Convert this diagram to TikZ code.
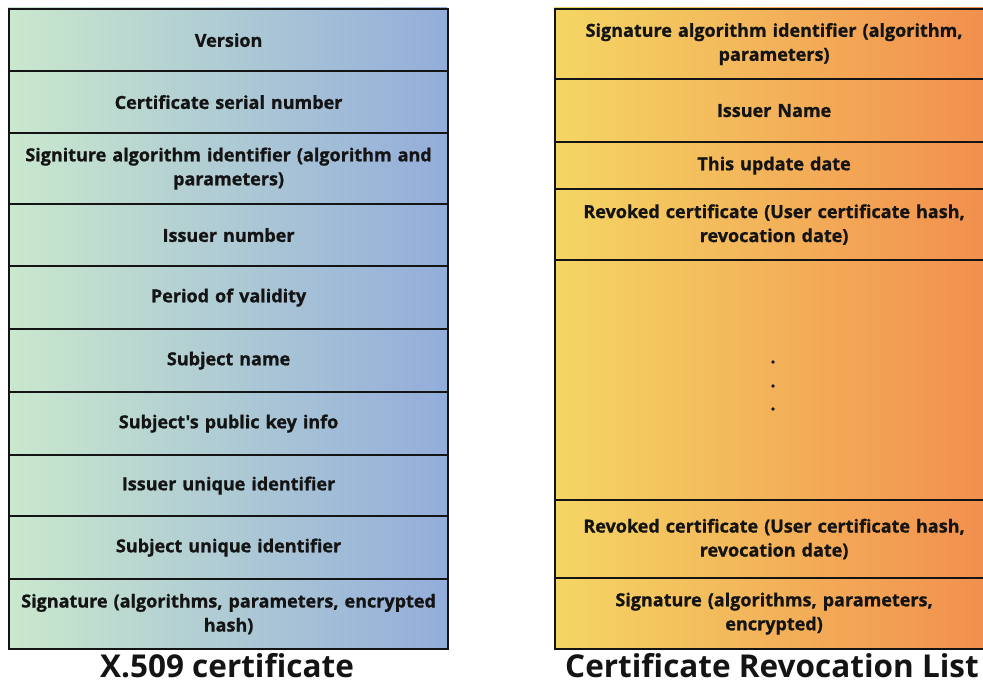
\documentclass[tikz,border=0pt]{standalone}
\usepackage{fontspec}
\setmainfont{Open Sans}
\newfontfamily\cellfont{Open Sans}[BoldFeatures={FakeBold=1.0}]
\definecolor{ink}{HTML}{141414}
\definecolor{greenL}{HTML}{CAE8CD}
\definecolor{blueM}{HTML}{B0DEE8}
\definecolor{blueR}{HTML}{93ADDB}
\definecolor{yellowL}{HTML}{F4D664}
\definecolor{orangeM}{HTML}{F5B458}
\definecolor{orangeR}{HTML}{F28E4E}
\tikzset{
  cell/.style={draw=ink, line width=2.2pt, rectangle, inner xsep=4pt, inner ysep=0pt,
    anchor=north west, align=center, text=ink,
    font=\cellfont\bfseries\fontsize{18}{24}\selectfont},
  lcell/.style={cell, minimum width=439pt, text width=431pt},
  rcell/.style={cell, minimum width=438pt, text width=430pt},
  caption/.style={text=ink, font=\bfseries\fontsize{31.5}{34}\selectfont, inner sep=0pt},
  dot/.style={fill=ink}
}
\begin{document}
\begin{tikzpicture}[x=1pt, y=-1pt]
\useasboundingbox (0,0) rectangle (983,684);
% colour bands behind the two tables
\shade[left color=greenL, middle color=blueM, right color=blueR] (8,8) rectangle (447,648);
\shade[left color=yellowL, middle color=orangeM, right color=orangeR] (554,8) rectangle (992,648);

% X.509 certificate fields
\node[lcell, minimum height=62pt] (v)   at (8,8)   {Version};
\node[lcell, minimum height=62pt] (sn)  at (8,70)  {Certificate serial number};
\node[lcell, minimum height=71pt] (sa)  at (8,132) {Signiture algorithm identifier (algorithm and\\parameters)};
\node[lcell, minimum height=62pt] (in)  at (8,203) {Issuer number};
\node[lcell, minimum height=63pt] (pv)  at (8,265) {Period of validity};
\node[lcell, minimum height=63pt] (sj)  at (8,328) {Subject name};
\node[lcell, minimum height=63pt] (pk)  at (8,391) {Subject's public key info};
\node[lcell, minimum height=61pt] (iu)  at (8,454) {Issuer unique identifier};
\node[lcell, minimum height=63pt] (su)  at (8,515) {Subject unique identifier};
\node[lcell, minimum height=70pt] (sg)  at (8,578) {Signature (algorithms, parameters, encrypted\\hash)};

% Certificate Revocation List fields
\node[rcell, minimum height=70pt]  (rsa) at (554,8)   {Signature algorithm identifier (algorithm,\\parameters)};
\node[rcell, minimum height=63pt]  (rin) at (554,78)  {Issuer Name};
\node[rcell, minimum height=47pt]  (rud) at (554,141) {This update date};
\node[rcell, minimum height=71pt]  (rv1) at (554,188) {Revoked certificate (User certificate hash,\\revocation date)};
\node[rcell, minimum height=240pt] (rgap) at (554,259) {};
\node[rcell, minimum height=78pt]  (rv2) at (554,499) {Revoked certificate (User certificate hash,\\revocation date)};
\node[rcell, minimum height=71pt]  (rsg) at (554,577) {Signature (algorithms, parameters,\\encrypted)};

% vertical ellipsis in the open section
\fill[dot] (773,362) circle (1.9pt);
\fill[dot] (773,386) circle (1.9pt);
\fill[dot] (773,409) circle (1.9pt);

% captions
\node[caption] (capL) at (227,666) {X.509 certificate};
\node[caption] (capR) at (772,666) {Certificate Revocation List};
\end{tikzpicture}
\end{document}
